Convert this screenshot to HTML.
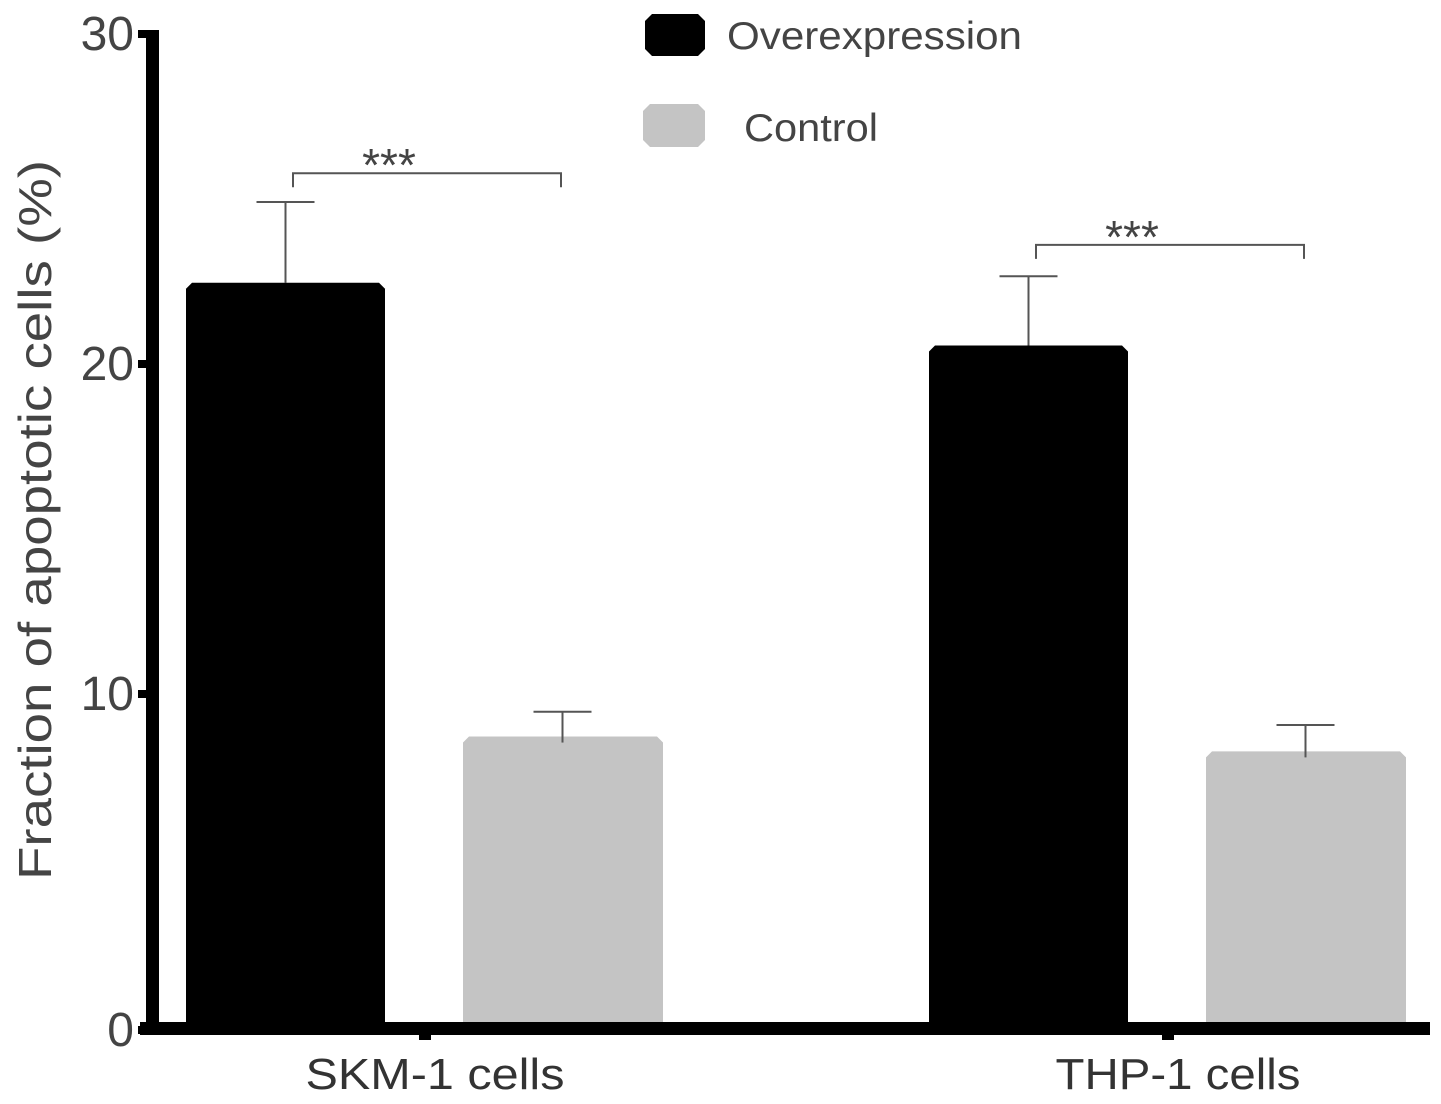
<!DOCTYPE html>
<html><head><meta charset="utf-8"><style>
body{margin:0;background:#fff}
svg{display:block;font-family:"Liberation Sans",sans-serif}
</style></head><body>
<svg id="chart" width="1441" height="1104" viewBox="0 0 1441 1104">
<g id="bars"></g>
<g id="axes"></g>
</svg>
<script>
const categories=["SKM-1 cells","THP-1 cells"];
const overexpression=[22.4,20.5];
const overexpressionErr=[2.45,2.1];
const control=[8.65,8.2];
const controlErr=[0.75,0.8];
const yTicks=[0,10,20,30];
const sigLabels=["***","***"];
const sigLevels=[25.72,23.55];

const NS="http://www.w3.org/2000/svg";
const y0=1022, pxPer=33.0;
function y(v){return y0-v*pxPer;}
const groupLeft=[186,929];
const labelLen=[259,245];
function xOver(i){return groupLeft[i];}
function xCtrl(i){return groupLeft[i]+277;}
const bw=199;
function mk(tag,attrs,parent,txt){const e=document.createElementNS(NS,tag);for(const k in attrs)e.setAttribute(k,attrs[k]);if(txt!==undefined)e.textContent=txt;parent.appendChild(e);return e;}
const bars=document.getElementById('bars'),axes=document.getElementById('axes');
function barPath(x,top,w,bot){const c=6;return `M${x},${bot}L${x},${top+c}L${x+c},${top}L${x+w-c},${top}L${x+w},${top+c}L${x+w},${bot}Z`;}
categories.forEach((c,i)=>{
  let cx=xOver(i)+bw/2;
  let el=mk('line',{x1:cx,x2:cx,y1:y(overexpression[i]),y2:y(overexpression[i]+overexpressionErr[i]),stroke:'#555','stroke-width':2},bars);
  
  
  el=mk('line',{x1:cx-29,x2:cx+29,y1:y(overexpression[i]+overexpressionErr[i]),y2:y(overexpression[i]+overexpressionErr[i]),stroke:'#555','stroke-width':2},bars);
  
  
  el=mk('path',{d:barPath(xOver(i),y(overexpression[i]),bw,y0),fill:'#000'},bars);
  
  
  el=mk('path',{d:barPath(xCtrl(i),y(control[i]),bw+1,y0),fill:'#c4c4c4'},bars);
  
  
  cx=xCtrl(i)+bw/2;
  el=mk('line',{x1:cx,x2:cx,y1:y(control[i])+6,y2:y(control[i]+controlErr[i]),stroke:'#555','stroke-width':2},bars);
  
  
  el=mk('line',{x1:cx-29,x2:cx+29,y1:y(control[i]+controlErr[i]),y2:y(control[i]+controlErr[i]),stroke:'#555','stroke-width':2},bars);
  
  
  const by=y(sigLevels[i]);
  const x1=xOver(i)+107,x2=xCtrl(i)+98;
  el=mk('path',{d:`M${x1},${by+14}L${x1},${by}L${x2},${by}L${x2},${by+14}`,fill:'none',stroke:'#555','stroke-width':2},bars);
  
  
  el=mk('text',{x:(x1+x2)/2-38,y:by+8,'font-size':46,fill:'#444','text-anchor':'middle'},bars,sigLabels[i]);
  
  
  const tx=xOver(i)+bw+40;
  el=mk('rect',{x:tx-6,y:y0+8,width:12,height:10,fill:'#000'},axes);
  
  
  el=mk('text',{x:tx+10,y:1089,'font-size':44,fill:'#333','text-anchor':'middle',textLength:labelLen[i],lengthAdjust:'spacingAndGlyphs'},axes,c);
  
  
});
let el=mk('rect',{x:146,y:y(30)-2,width:13,height:y0-y(30)+15,fill:'#000'},axes);


el=mk('rect',{x:140,y:y0,width:1290,height:13,fill:'#000'},axes);


yTicks.forEach(t=>{
  const ty=t===0?y0+6:y(t);
  let e=mk('rect',{x:138,y:ty-2,width:10,height:8,fill:'#000'},axes);
  
  
  e=mk('text',{x:134,y:ty+18,'font-size':48,fill:'#444','text-anchor':'end'},axes,String(t));
  
  
});
el=mk('text',{x:0,y:0,'font-size':46,fill:'#444','text-anchor':'middle',textLength:720,lengthAdjust:'spacingAndGlyphs',transform:'translate(51,520) rotate(-90)'},axes,'Fraction of  apoptotic cells (%)');


el=mk('path',{d:'M652,14L698,14L705,21L705,49L698,56L652,56L645,49L645,21Z',fill:'#000'},axes);


el=mk('text',{x:727,y:49,'font-size':39,fill:'#444',textLength:295,lengthAdjust:'spacingAndGlyphs'},axes,'Overexpression');


el=mk('path',{d:'M650,104L698,104L705,111L705,140L698,147L650,147L643,140L643,111Z',fill:'#c4c4c4'},axes);


el=mk('text',{x:744,y:141,'font-size':39,fill:'#444',textLength:134,lengthAdjust:'spacingAndGlyphs'},axes,'Control');


</script>
</body></html>
